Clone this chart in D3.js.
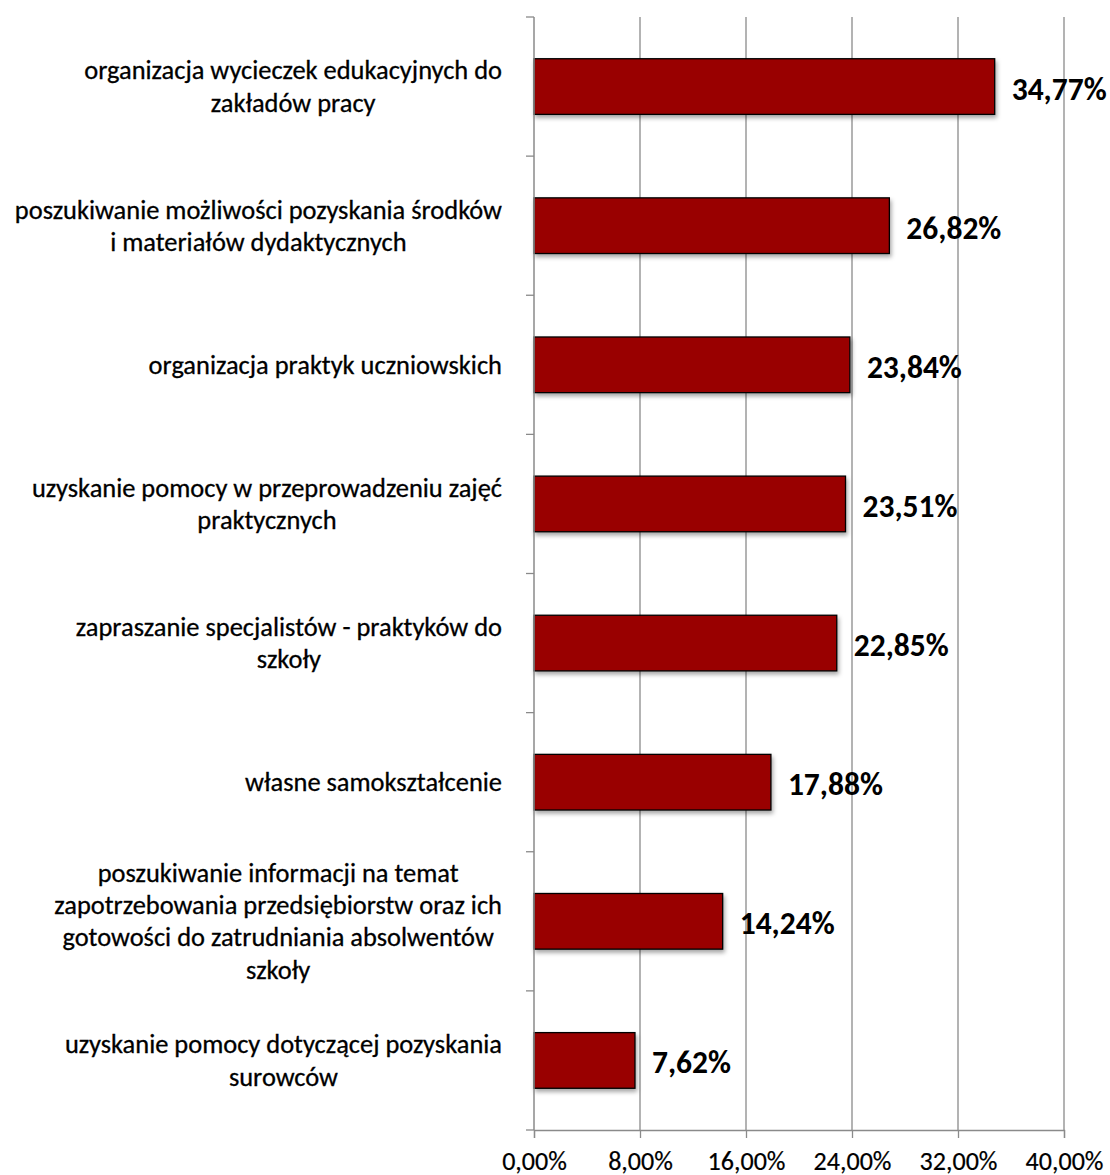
<!DOCTYPE html>
<html>
<head>
<meta charset="utf-8">
<script src="https://cdn.jsdelivr.net/npm/d3@7"></script>
<style>
  html, body { margin: 0; padding: 0; background: #fff; }
  svg { display: block; }
</style>
</head>
<body>
<svg id="chart" width="1110" height="1175"></svg>
<script>
// Category labels, already broken into lines as they wrap under the axis labels
const categories = [
  ["organizacja wycieczek edukacyjnych do", "zakładów pracy"],
  ["poszukiwanie możliwości pozyskania środków", "i materiałów dydaktycznych"],
  ["organizacja praktyk uczniowskich"],
  ["uzyskanie pomocy w przeprowadzeniu zajęć", "praktycznych"],
  ["zapraszanie specjalistów - praktyków do", "szkoły"],
  ["własne samokształcenie"],
  ["poszukiwanie informacji na temat", "zapotrzebowania przedsiębiorstw oraz ich", "gotowości do zatrudniania absolwentów", "szkoły"],
  ["uzyskanie pomocy dotyczącej pozyskania", "surowców"]
];
const values = [34.77, 26.82, 23.84, 23.51, 22.85, 17.88, 14.24, 7.62];
const xTicks = [0, 8, 16, 24, 32, 40];

const fmt = v => v.toFixed(2).replace(".", ",") + "%";
const family = "Carlito, Lato, 'Open Sans', sans-serif";

const svg = d3.select("#chart");

// Shadow under each bar
const defs = svg.append("defs");
const f = defs.append("filter").attr("id", "barShadow")
  .attr("x", "-5%").attr("y", "-20%").attr("width", "115%").attr("height", "160%");
f.append("feDropShadow").attr("dx", 1.5).attr("dy", 3).attr("stdDeviation", 2)
  .attr("flood-color", "#000").attr("flood-opacity", 0.35);

// Font size so that a given string reaches a given width
function fitSize(text, target, weight) {
  const t = svg.append("text").attr("font-family", family).attr("font-weight", weight)
    .attr("font-size", 100).text(text);
  const w = t.node().getComputedTextLength();
  t.remove();
  return 100 * target / w;
}
const catSize = fitSize("zapotrzebowania przedsiębiorstw oraz ich", 448, 400);
const valSize = fitSize("34,77%", 95, 700);
const tickSize = fitSize("32,00%", 78, 400);

const x = d3.scaleLinear().domain([0, 40]).range([534, 1064]);
const y = d3.scaleBand().domain(d3.range(categories.length))
  .range([17, 1130]).paddingInner(0.6).paddingOuter(0.3);

const gridColor = "#8a8a8a";

// Vertical gridlines
svg.append("g").selectAll("line").data(xTicks.slice(1)).join("line")
  .attr("x1", d => x(d)).attr("x2", d => x(d))
  .attr("y1", 17).attr("y2", 1130)
  .attr("stroke", gridColor).attr("stroke-width", 1.3);

// X axis
const xAxis = svg.append("g").attr("transform", "translate(0,1130)")
  .call(d3.axisBottom(x).tickValues(xTicks).tickSize(8).tickPadding(13).tickFormat(fmt));
xAxis.select(".domain").attr("stroke", gridColor).attr("stroke-width", 1.3);
xAxis.selectAll(".tick line").attr("stroke", gridColor).attr("stroke-width", 1.3);
xAxis.selectAll(".tick text").attr("font-family", family).attr("font-size", tickSize)
  .attr("fill", "#000").attr("stroke", "#000").attr("stroke-width", 0.2);

// Bars
svg.append("g").selectAll("rect").data(values).join("rect")
  .attr("x", x(0)).attr("y", (d, i) => y(i))
  .attr("width", d => x(d) - x(0)).attr("height", y.bandwidth())
  .attr("fill", "#990000").attr("stroke", "#000").attr("stroke-width", 1.3)
  .attr("filter", "url(#barShadow)");

// Y axis line with ticks at the band boundaries
const yAxis = svg.append("g");
yAxis.append("line").attr("x1", x(0)).attr("x2", x(0)).attr("y1", 17).attr("y2", 1130)
  .attr("stroke", gridColor).attr("stroke-width", 1.5);
yAxis.selectAll("line.tick").data(d3.range(categories.length + 1)).join("line")
  .attr("class", "tick")
  .attr("x1", x(0) - 8).attr("x2", x(0))
  .attr("y1", i => y.range()[0] + i * y.step())
  .attr("y2", i => y.range()[0] + i * y.step())
  .attr("stroke", gridColor).attr("stroke-width", 1.3);

// Value labels
svg.append("g").selectAll("text").data(values).join("text")
  .attr("x", d => x(d) + 17)
  .attr("y", (d, i) => y(i) + y.bandwidth() / 2 + 2)
  .attr("dominant-baseline", "central")
  .attr("font-family", family).attr("font-weight", 700).attr("font-size", valSize)
  .attr("fill", "#000")
  .text(fmt);

// Category labels: block right-aligned to the axis, lines centred within the block
const lineH = 32.3;
const labelRight = 502;
const cat = svg.append("g");
categories.forEach((lines, i) => {
  const g = cat.append("g");
  const cy = y(i) + y.bandwidth() / 2;
  const texts = lines.map((s, k) => g.append("text")
    .attr("font-family", family).attr("font-size", catSize).attr("fill", "#000")
    .attr("stroke", "#000").attr("stroke-width", 0.3)
    .attr("text-anchor", "middle").attr("dominant-baseline", "central")
    .attr("y", cy + (k - (lines.length - 1) / 2) * lineH)
    .text(s));
  const maxW = d3.max(texts, t => t.node().getComputedTextLength());
  texts.forEach(t => t.attr("x", labelRight - maxW / 2));
});
</script>
</body>
</html>
